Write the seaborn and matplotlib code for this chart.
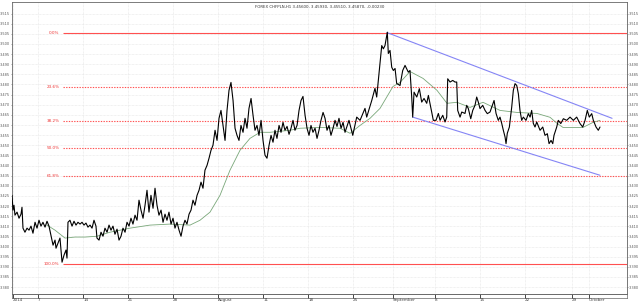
import numpy as np
import pandas as pd
import matplotlib
matplotlib.use("Agg")
import matplotlib.pyplot as plt
import seaborn as sns

# ---------------- data (trading days since chart start, price) ----------------
t_price = [0.00, 0.11, 0.22, 0.33, 0.56, 0.78, 1.00, 1.11, 1.22, 1.44, 1.67, 1.89, 2.11, 2.33, 2.56, 2.78,
           3.00, 3.22, 3.44, 3.67, 3.89, 4.11, 4.33, 4.56, 4.78, 4.89, 5.11, 5.33, 5.44, 5.56, 5.78, 6.00,
           6.11, 6.22, 6.44, 6.67, 6.89, 7.11, 7.33, 7.56, 7.78, 8.00, 8.22, 8.44, 8.67, 8.89, 9.11, 9.33,
           9.44, 9.67,
           9.89, 10.11, 10.33, 10.56, 10.78, 11.00, 11.22, 11.44, 11.67, 11.89, 12.11, 12.33, 12.56, 12.78,
           13.00, 13.22, 13.44, 13.67, 13.89, 14.11, 14.33, 14.56, 14.78, 15.00, 15.22, 15.44, 15.67, 15.89,
           16.11, 16.33, 16.56, 16.78, 17.00, 17.22, 17.44, 17.67, 17.89, 18.11, 18.33, 18.56, 18.78, 19.00,
           19.22, 19.44, 19.67, 19.89, 20.11, 20.33, 20.56, 20.78, 21.00, 21.22, 21.44, 21.67, 21.89, 22.11,
           22.33, 22.56, 22.78, 23.00, 23.22, 23.44, 23.67, 23.89, 24.11, 24.33, 24.56, 24.78, 25.00, 25.22,
           25.44, 25.67, 25.89, 26.11, 26.33, 26.56, 26.78, 27.00, 27.22, 27.44, 27.67, 27.89, 28.11, 28.33,
           28.56, 28.78, 29.00, 29.22, 29.44, 29.67, 29.89, 30.11, 30.33, 30.56, 30.78, 31.00, 31.22, 31.44,
           31.67, 31.89, 32.11, 32.33, 32.56, 32.78, 33.00, 33.22, 33.44, 33.67, 33.89, 34.11, 34.33, 34.56,
           34.78, 35.00, 35.22, 35.44, 35.67, 35.89, 36.11, 36.33, 36.56, 36.78, 37.00, 37.22, 37.44,
           37.86, 38.30, 38.67, 39.22, 39.41, 39.97, 40.33, 40.52, 40.89, 41.08, 41.26, 41.44, 41.70, 41.81,
           42.00, 42.19, 42.37, 42.56, 42.74, 43.11, 43.41, 43.67, 44.03, 44.22, 44.41, 44.52, 44.67, 44.97,
           45.26, 45.52, 45.78, 46.08, 46.26, 46.44, 46.63, 46.81, 47.11, 47.37, 47.56, 47.86, 48.11, 48.30,
           48.41, 48.67, 48.97, 49.22, 49.41, 49.52, 49.78, 49.97, 50.33, 50.52, 50.70, 50.97, 51.19, 51.44,
           51.63, 51.81, 52.00, 52.30, 52.56, 52.81, 53.11, 53.30, 53.56, 53.78, 54.03, 54.22, 54.41, 54.59,
           54.78, 54.89, 55.03, 55.26, 55.52, 55.70, 55.89, 56.08, 56.26, 56.44, 56.63, 56.81, 57.11, 57.37,
           57.56, 57.74, 57.92, 58.11, 58.30, 58.67, 58.97, 59.22, 59.48, 59.67, 59.89, 60.08, 60.22, 60.52,
           60.70, 60.97, 61.26, 61.63, 62.00, 62.37, 62.74, 63.11, 63.41, 63.67, 63.92, 64.14, 64.41, 64.59,
           64.89, 65.14, 65.33]
price = [3.4253, 3.4180, 3.4204, 3.4155, 3.4170, 3.4140, 3.4160, 3.4194, 3.4091, 3.4071, 3.4091, 3.4081,
         3.4101, 3.4066, 3.4120, 3.4091, 3.4130, 3.4101, 3.4120, 3.4096, 3.4125, 3.4101, 3.4056, 3.4007,
         3.4032, 3.3992, 3.4017, 3.4042, 3.3983, 3.3923, 3.3958, 3.3983, 3.3943, 3.4120, 3.4130, 3.4101,
         3.4125, 3.4106, 3.4120, 3.4111, 3.4120, 3.4106, 3.4116, 3.4096, 3.4106, 3.4091, 3.4130, 3.4101,
         3.4042, 3.4032,
         3.4071, 3.4051, 3.4091, 3.4071, 3.4106, 3.4081, 3.4101, 3.4061, 3.4086, 3.4032, 3.4051, 3.4091,
         3.4071, 3.4120, 3.4101, 3.4140, 3.4111, 3.4155, 3.4130, 3.4229, 3.4180, 3.4140, 3.4204, 3.4278,
         3.4170, 3.4253, 3.4189, 3.4288, 3.4204, 3.4155, 3.4180, 3.4120, 3.4160, 3.4130, 3.4170, 3.4111,
         3.4140, 3.4091, 3.4120, 3.4081, 3.4051, 3.4101, 3.4130, 3.4111, 3.4160, 3.4180, 3.4229, 3.4204,
         3.4253, 3.4278, 3.4318, 3.4288, 3.4377, 3.4401, 3.4436, 3.4475, 3.4500, 3.4574, 3.4524, 3.4633,
         3.4672, 3.4598, 3.4524, 3.4672, 3.4771, 3.4810, 3.4721, 3.4584, 3.4549, 3.4524, 3.4598, 3.4564,
         3.4633, 3.4584, 3.4682, 3.4731, 3.4648, 3.4574, 3.4598, 3.4549, 3.4623, 3.4524, 3.4451, 3.4436,
         3.4500, 3.4549, 3.4515, 3.4574, 3.4534, 3.4598, 3.4564, 3.4613, 3.4574, 3.4593, 3.4554, 3.4584,
         3.4623, 3.4574, 3.4598, 3.4672, 3.4721, 3.4741, 3.4648, 3.4584, 3.4549, 3.4598, 3.4564, 3.4584,
         3.4534, 3.4574, 3.4623, 3.4662, 3.4633, 3.4574, 3.4598, 3.4549, 3.4584, 3.4623, 3.4593, 3.4633,
         3.4584, 3.4613, 3.4564, 3.4593, 3.4623,
         3.4549, 3.4639, 3.4623, 3.4682, 3.4639, 3.4721, 3.4781, 3.4738, 3.4904, 3.4992, 3.4976, 3.4992,
         3.5058, 3.4953, 3.4968, 3.4885, 3.4869, 3.4879, 3.4805, 3.4795, 3.4869, 3.4894, 3.4861, 3.4869,
         3.4738, 3.4639, 3.4762, 3.4738, 3.4779, 3.4713, 3.4731, 3.4707, 3.4746, 3.4707, 3.4664, 3.4623,
         3.4623, 3.4657, 3.4623, 3.4648, 3.4615, 3.4639, 3.4828, 3.4812, 3.4820, 3.4812, 3.4812, 3.4672,
         3.4639, 3.4664, 3.4657, 3.4697, 3.4681, 3.4631, 3.4672, 3.4697, 3.4738, 3.4713, 3.4681, 3.4697,
         3.4672, 3.4656, 3.4664, 3.4688, 3.4721, 3.4657, 3.4623, 3.4639, 3.4608, 3.4574, 3.4541, 3.4508,
         3.4559, 3.4590, 3.4688, 3.4771, 3.4804, 3.4795, 3.4754, 3.4672, 3.4623, 3.4639, 3.4623, 3.4656,
         3.4639, 3.4672, 3.4608, 3.4590, 3.4615, 3.4574, 3.4590, 3.4549, 3.4557, 3.4508, 3.4524, 3.4508,
         3.4549, 3.4590, 3.4623, 3.4607, 3.4631, 3.4623, 3.4639, 3.4623, 3.4639, 3.4607, 3.4590, 3.4623,
         3.4672, 3.4639, 3.4656, 3.4623, 3.4590, 3.4574, 3.4590]

t_ma = [3.89, 4.78, 5.89, 7.00, 8.11, 9.44, 10.89, 13.11, 15.33, 17.56, 19.78, 20.89, 22.00, 23.11, 24.22,
        25.33, 26.44, 27.56, 28.67, 29.78, 30.89, 32.00, 34.22, 36.44, 37.56, 38.67, 39.78, 40.89, 42.33,
        43.11, 44.22, 45.67, 47.22, 48.33, 49.44, 50.89, 52.33, 54.22, 56.11, 58.33, 59.78, 60.56, 61.22,
        63.44, 64.56, 65.33]
ma = [3.4106, 3.4081, 3.4042, 3.4047, 3.4047, 3.4051, 3.4071, 3.4091, 3.4106, 3.4111, 3.4106, 3.4130,
      3.4170, 3.4253, 3.4377, 3.4475, 3.4534, 3.4564, 3.4564, 3.4569, 3.4574, 3.4584, 3.4588, 3.4584,
      3.4559, 3.4598, 3.4633, 3.4682, 3.4790, 3.4810, 3.4864, 3.4830, 3.4771, 3.4707, 3.4712, 3.4687,
      3.4712, 3.4672, 3.4662, 3.4657, 3.4638, 3.4608, 3.4588, 3.4588, 3.4613, 3.4623]

# Fibonacci retracement (high / low anchors)
fib_high = 3.5056
fib_low = 3.3914
fib_start = 5.67
fib_ratios = [0.0, 0.236, 0.382, 0.5, 0.618, 1.0]
fib_labels = ["0.0%", "23.6%", "38.2%", "50.0%", "61.8%", "100.0%"]

# Trend channel end points (t, price)
chan_upper_t = [41.67, 66.67]
chan_upper_p = [3.5056, 3.4633]
chan_lower_t = [44.52, 65.33]
chan_lower_p = [3.4639, 3.4352]

# x-axis ticks
xtick_pos = [0.1, 2.9, 7.9, 12.9, 17.9, 22.9, 27.9, 32.9, 37.9, 42.3, 47.0, 52.0, 57.0, 62.2, 64.1]
xtick_lab = ["2014", "7", "14", "21", "28", "August", "11", "18", "25", "September",
             "8", "15", "22", "29", "October"]
ytick_vals = [round(3.380 + 0.005 * i, 3) for i in range(28)]

title = "FOREX CHFPLN,H1 3.45600, 3.45930, 3.45510, 3.45870, -0.00230"

# ---------------- plot ----------------
sns.set_theme(style="white")
plt.rcParams["font.family"] = ["DejaVu Sans"]

fig = plt.figure(figsize=(6.4, 3.02), dpi=100)
ax = fig.add_axes([12 / 640, 1 - 294 / 302, 615 / 640, 292 / 302])
ax.set_facecolor("white")

# time-scale band under the plot (frame only)
band = fig.add_axes([12 / 640, 1 - 297.5 / 302, 615 / 640, 3.5 / 302], zorder=-1)
band.set_xticks([])
band.set_yticks([])
for s in band.spines.values():
    s.set_color("#666666")
    s.set_linewidth(0.5)

df = pd.DataFrame({"t": t_price, "price": price})
dma = pd.DataFrame({"t": t_ma, "ma": ma})

# grid
for yv in ytick_vals:
    ax.axhline(yv, color="#e4e4e4", lw=0.5, ls=(0, (1, 1)), zorder=0)
for xv in xtick_pos:
    ax.axvline(xv, color="#e4e4e4", lw=0.5, ls=(0, (1, 1)), zorder=0)

# fibonacci
for r, lab in zip(fib_ratios, fib_labels):
    lvl = fib_high - r * (fib_high - fib_low)
    ls = "solid" if r in (0.0, 1.0) else (0, (1.2, 1.2))
    ax.hlines(lvl, fib_start, 68.33, colors="#ff5050", linewidth=0.8, linestyles=ls, zorder=1)
    ax.text(fib_start - 0.4, lvl, lab, color="#ee3333", fontsize=3, ha="right", va="center")

# channel
ax.plot(chan_upper_t, chan_upper_p, color="#8585f5", lw=0.8, zorder=2)
ax.plot(chan_lower_t, chan_lower_p, color="#8585f5", lw=0.8, zorder=2)

sns.lineplot(data=dma, x="t", y="ma", ax=ax, color="#79a779", lw=0.6, estimator=None, sort=False, zorder=3)
sns.lineplot(data=df, x="t", y="price", ax=ax, color="black", lw=0.8, estimator=None, sort=False, zorder=4)

ax.set_xlim(0, 68.33)
ax.set_ylim(3.3766, 3.5207)
ax.set_xlabel("")
ax.set_ylabel("")

ax.set_yticks(ytick_vals)
ax.set_yticklabels([f"{v:.3f}" for v in ytick_vals])
ax.set_yticks(np.arange(3.377, 3.520, 0.001), minor=True)
ax.tick_params(axis="y", which="major", labelleft=True, labelright=True, left=True, right=True,
               length=1.0, width=0.4, labelsize=2.5, pad=0.4, colors="#555555")
ax.tick_params(axis="y", which="minor", left=False, right=True, length=0.8, width=0.3, color="#777777")

ax.set_xticks(xtick_pos)
ax.set_xticklabels(xtick_lab, ha="left")
ax.tick_params(axis="x", which="major", bottom=True, length=2.6, width=0.7, labelsize=3, pad=0.2,
               colors="#444444")

for s in ax.spines.values():
    s.set_color("#666666")
    s.set_linewidth(0.6)

ax.text(0.5, 0.99, title, transform=ax.transAxes, fontsize=2.8, ha="center", va="top", color="#333333")

fig.savefig("out.png", dpi=100)
